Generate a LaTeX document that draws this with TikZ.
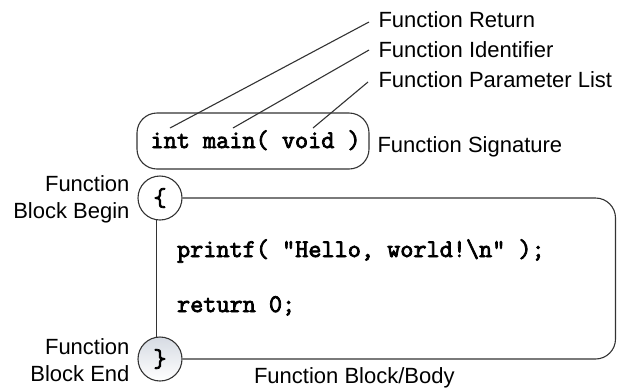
\documentclass[tikz,border=0pt]{standalone}
\usepackage{fontspec}
\setmainfont{Liberation Sans}
\newfontfamily\codefont[FakeBold=3]{Latin Modern Mono}
\usetikzlibrary{calc}

\begin{document}
\begin{tikzpicture}[x=1bp, y=-1bp, line width=1.1bp,
  ink/.style={draw=black!80},
  lbl/.style={inner sep=0pt, font=\fontsize{22bp}{26.7bp}\selectfont},
  code/.style={inner sep=0pt, font=\fontsize{25.5bp}{28bp}\selectfont\codefont},
  bracecircle/.style={circle, draw=black!80, fill=white, minimum size=44bp, inner sep=0pt,
    font=\fontsize{25.5bp}{28bp}\selectfont\codefont}
]
\useasboundingbox (0,0) rectangle (617,390);

% function signature
\node[ink, rounded corners=20bp, minimum width=232bp, minimum height=56bp, inner sep=0pt] (sig) at (253,141) {};
\node[code, anchor=base west] (sigtext) at (150,148) {int main( void )};
\node[lbl, anchor=base west] (lsig) at (377,152) {Function Signature};

% parts of the signature
\node[lbl, anchor=base west] (lret) at (378,27) {Function Return};
\node[lbl, anchor=base west] (lid) at (378,57) {Function Identifier};
\node[lbl, anchor=base west] (lpar) at (378,87) {Function Parameter List};
\coordinate (pRet) at (170,128);
\coordinate (pId) at (233,128);
\coordinate (pPar) at (313,128);
\draw[ink] ($(lret.base west)+(-9,-5)$) -- (pRet);
\draw[ink] ($(lid.base west)+(-9,-7)$) -- (pId);
\draw[ink] ($(lpar.base west)+(-10,-5)$) -- (pPar);

% function block
\node[bracecircle] (bbeg) at (160,198) {\{};
\node[bracecircle, top color={rgb,255:red,214;green,219;blue,227}, middle color=white, bottom color=white] (bend) at (160,359) {\}};
\draw[ink, rounded corners=20bp] (bbeg.east) -- (615.5,198) -- (615.5,359) -- (bend.east);
\draw[ink] (bbeg.260) -- (bend.100);

\node[code, anchor=base west] (line1) at (176.5,257) {printf( "Hello, world!\textbackslash n" );};
\node[code, anchor=base west] (line2) at (176.5,312) {return 0;};

% the base anchor of a two-line label sits on its last line
\node[lbl, align=right, anchor=base east] (lbeg) at (130,218.5) {Function\\Block Begin};
\node[lbl, align=right, anchor=base east] (lend) at (130,381.5) {Function\\Block End};
\node[lbl, anchor=base west] (lbody) at (253.5,383) {Function Block/Body};
\end{tikzpicture}
\end{document}
